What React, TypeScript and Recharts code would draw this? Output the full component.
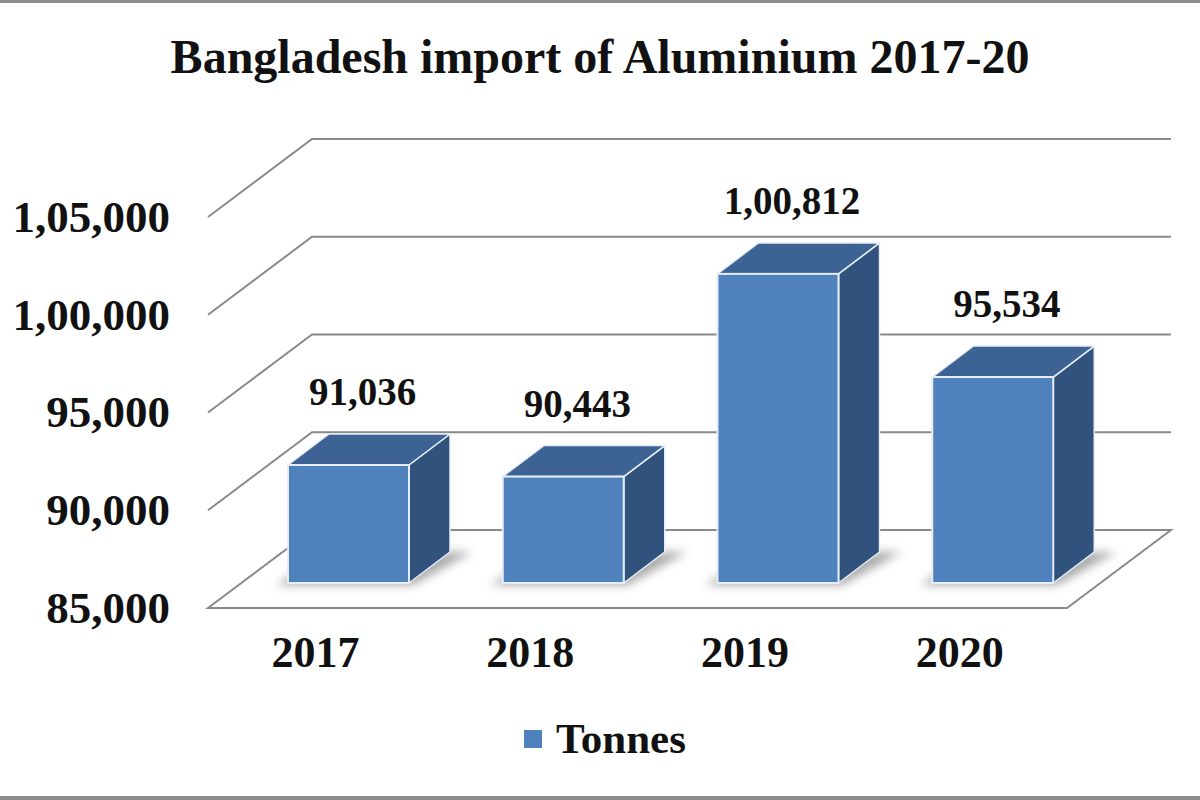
import { BarChart, Bar, XAxis, YAxis, CartesianGrid, LabelList, Legend } from "recharts";

const years = ["2017", "2018", "2019", "2020"];
const tonnes = [91036, 90443, 100812, 95534];
const yTicks = [85000, 90000, 95000, 100000, 105000];

const data = years.map((year, i) => ({ year, tonnes: tonnes[i] }));

// layout of the fake 3d box
const W = 1200;
const H = 800;
const Y_W = 60;
const X_H = 30;
const MARGIN = { top: 192, right: 100, left: 181, bottom: 187 };
const PLOT_LEFT = MARGIN.left + Y_W;
const PLOT_BOTTOM = H - MARGIN.bottom - X_H;
const FRONT = { dx: -33, dy: 25 }; // bar plane -> front edge of floor
const BACK = { dx: 71, dy: -53 }; // bar plane -> back wall
const DEPTH = { dx: 41, dy: -31 }; // bar thickness

const FONT = '"Liberation Serif", "Times New Roman", serif';
const GRID = "#8a8a8a";
const FACE = "#4f81bd";
const TOP = "#3d6394";
const SIDE = "#30527c";
const EDGE = "#e6edf6";

// 1,00,812 style grouping
const fmtIN = (n: number) => {
  const s = String(Math.round(n));
  if (s.length <= 3) return s;
  const last3 = s.slice(-3);
  let rest = s.slice(0, -3);
  const parts: string[] = [];
  while (rest.length > 2) {
    parts.unshift(rest.slice(-2));
    rest = rest.slice(0, -2);
  }
  if (rest) parts.unshift(rest);
  return parts.join(",") + "," + last3;
};

const pts = (p: number[][]) => p.map((q) => q.join(",")).join(" ");

const GridLine = (props: any) => {
  const { x1, y1, x2, index } = props;
  const fl = [x1 + FRONT.dx, y1 + FRONT.dy];
  const bl = [x1 + BACK.dx, y1 + BACK.dy];
  const br = [x2 + BACK.dx, y1 + BACK.dy];
  if (Math.abs(y1 - PLOT_BOTTOM) < 1) {
    const fr = [x2 + FRONT.dx, y1 + FRONT.dy];
    return (
      <polygon
        key={`g-${index}`}
        points={pts([fl, fr, br, bl])}
        fill="#fff"
        stroke={GRID}
        strokeWidth={2}
      />
    );
  }
  return (
    <polyline
      key={`g-${index}`}
      points={pts([fl, bl, br])}
      fill="none"
      stroke={GRID}
      strokeWidth={2}
    />
  );
};

const Box = (props: any) => {
  const { x, y, width: w, height: h, index } = props;
  const { dx, dy } = DEPTH;
  const b = y + h;
  const id = `blur-${index}`;
  return (
    <g>
      <defs>
        <filter id={id} x="-30%" y="-30%" width="160%" height="160%">
          <feGaussianBlur stdDeviation={5} />
        </filter>
      </defs>
      <polygon
        points={pts([
          [x - 12, b + 2],
          [x + w + 4, b + 2],
          [x + w + dx + 22, b + dy],
          [x + dx, b + dy],
        ])}
        fill="#8f8f8f"
        opacity={0.75}
        filter={`url(#${id})`}
      />
      <polygon
        points={pts([[x + w, y], [x + w + dx, y + dy], [x + w + dx, b + dy], [x + w, b]])}
        fill={SIDE}
        stroke={EDGE}
        strokeWidth={1.5}
        strokeLinejoin="round"
      />
      <polygon
        points={pts([[x, y], [x + dx, y + dy], [x + w + dx, y + dy], [x + w, y]])}
        fill={TOP}
        stroke={EDGE}
        strokeWidth={1.5}
        strokeLinejoin="round"
      />
      <rect x={x} y={y} width={w} height={h} fill={FACE} stroke={EDGE} strokeWidth={2} />
    </g>
  );
};

const YTick = (props: any) => {
  const { y, payload } = props;
  return (
    <text
      x={PLOT_LEFT + FRONT.dx - 38}
      y={y + FRONT.dy}
      dy="0.33em"
      textAnchor="end"
      fontFamily={FONT}
      fontWeight="bold"
      fontSize={45}
      fill="#111"
    >
      {fmtIN(payload.value)}
    </text>
  );
};

const XTick = (props: any) => {
  const { x, payload } = props;
  return (
    <text
      x={x + FRONT.dx}
      y={PLOT_BOTTOM + 84}
      textAnchor="middle"
      fontFamily={FONT}
      fontWeight="bold"
      fontSize={44}
      fill="#111"
    >
      {payload.value}
    </text>
  );
};

const ValueLabel = (props: any) => {
  const { x, y, width, value } = props;
  return (
    <text
      x={x + width / 2 + 14}
      y={y - 60}
      textAnchor="middle"
      fontFamily={FONT}
      fontWeight="bold"
      fontSize={39}
      fill="#111"
    >
      {fmtIN(value)}
    </text>
  );
};

const LegendBox = () => (
  <div
    style={{
      display: "flex",
      justifyContent: "center",
      alignItems: "center",
      paddingLeft: 10,
      fontFamily: FONT,
      fontWeight: "bold",
      fontSize: 43,
      lineHeight: "48px",
      color: "#111",
    }}
  >
    <span style={{ width: 18, height: 18, background: FACE, marginRight: 14, display: "inline-block" }} />
    <span>Tonnes</span>
  </div>
);

export default function App() {
  return (
    <div style={{ position: "absolute", left: 0, top: 0, width: W, height: H, background: "#fff", overflow: "hidden" }}>
      <div style={{ position: "absolute", left: 0, top: 0, width: W, height: 3, background: "#8c8c8c" }} />
      <div style={{ position: "absolute", left: 0, top: H - 4, width: W, height: 4, background: "#8c8c8c" }} />
      <div
        style={{
          position: "absolute",
          left: 0,
          top: 33,
          width: W,
          textAlign: "center",
          fontFamily: FONT,
          fontWeight: "bold",
          fontSize: 48,
          lineHeight: "47px",
          color: "#111",
        }}
      >
        Bangladesh import of Aluminium 2017-20
      </div>
      <BarChart width={W} height={H} data={data} margin={MARGIN} barSize={121}>
        <CartesianGrid vertical={false} horizontal={GridLine} />
        <XAxis dataKey="year" height={X_H} axisLine={false} tickLine={false} tick={XTick} />
        <YAxis
          width={Y_W}
          domain={[85000, 105000]}
          ticks={yTicks}
          axisLine={false}
          tickLine={false}
          tick={YTick}
          interval={0}
        />
        <Legend
          layout="horizontal"
          verticalAlign="middle"
          align="center"
          content={LegendBox}
          wrapperStyle={{ top: 715, left: 0, width: W }}
        />
        <Bar dataKey="tonnes" name="Tonnes" shape={Box} isAnimationActive={false}>
          <LabelList dataKey="tonnes" content={ValueLabel} />
        </Bar>
      </BarChart>
    </div>
  );
}
